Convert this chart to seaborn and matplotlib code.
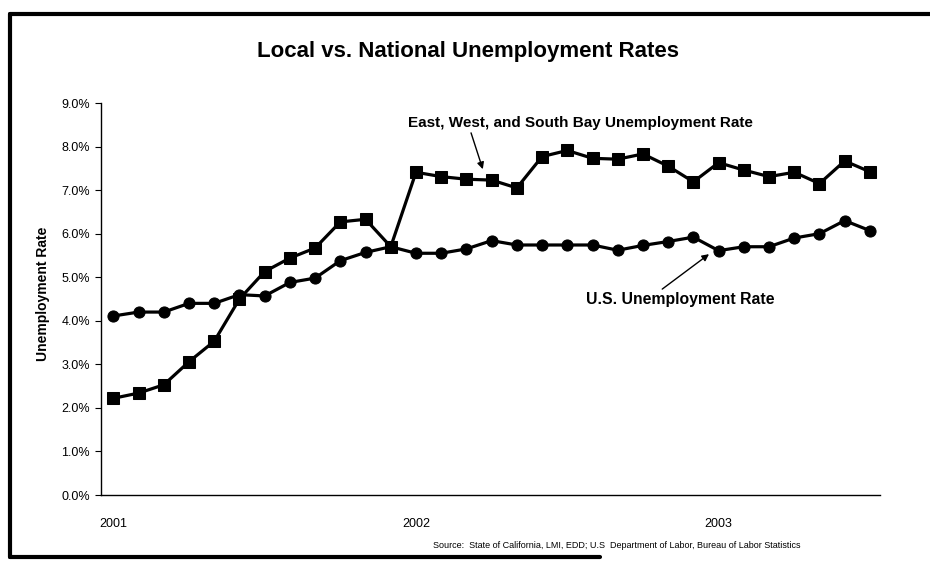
import numpy as np
import pandas as pd
import seaborn as sns
import matplotlib.pyplot as plt
from matplotlib.lines import Line2D

# data (monthly, Jan 2001 - Jul 2003)
months = list(range(31))
local_rate = [2.22, 2.34, 2.53, 3.06, 3.53, 4.50, 5.13, 5.44, 5.67, 6.27,
              6.33, 5.70, 7.41, 7.31, 7.25, 7.23, 7.05, 7.77, 7.91, 7.73,
              7.71, 7.83, 7.55, 7.19, 7.63, 7.46, 7.31, 7.41, 7.15, 7.67,
              7.42]
us_rate = [4.11, 4.20, 4.20, 4.40, 4.40, 4.60, 4.57, 4.88, 4.98, 5.38,
           5.57, 5.70, 5.55, 5.55, 5.65, 5.84, 5.74, 5.74, 5.74, 5.74,
           5.62, 5.73, 5.82, 5.92, 5.61, 5.70, 5.70, 5.90, 6.00, 6.30,
           6.07]
year_ticks = [0, 12, 24]
year_labels = ["2001", "2002", "2003"]
y_ticks = [0, 1, 2, 3, 4, 5, 6, 7, 8, 9]

df = pd.DataFrame({"month": months, "local": local_rate, "us": us_rate})

sns.set_style("white")
plt.rcParams["font.family"] = ["Liberation Sans", "DejaVu Sans"]
plt.rcParams["text.color"] = "black"
plt.rcParams["xtick.color"] = "black"
plt.rcParams["ytick.color"] = "black"

W, H = 930, 565
fig = plt.figure(figsize=(W / 100, H / 100), dpi=100)
ax = fig.add_axes([101 / W, 1 - 495 / H, (880 - 101) / W, (495 - 103) / H])

sns.lineplot(data=df, x="month", y="local", ax=ax, color="black", lw=2.3,
             marker="s", markersize=9, markeredgecolor="black")
sns.lineplot(data=df, x="month", y="us", ax=ax, color="black", lw=2.3,
             marker="o", markersize=8, markeredgecolor="black")

ax.set_xlim(-0.49, 30.4)
ax.set_ylim(0, 9)
ax.set_yticks(y_ticks)
ax.set_yticklabels([f"{v:.1f}%" for v in y_ticks], fontsize=9)
ax.set_xticks(year_ticks)
ax.set_xticklabels(year_labels, fontsize=9)
ax.tick_params(axis="y", left=True, length=4, width=0.8, pad=4)
ax.tick_params(axis="x", bottom=False, pad=13)
ax.set_xlabel("")
ax.set_ylabel("")
sns.despine(ax=ax)
for s in ["left", "bottom"]:
    ax.spines[s].set_color("black")
    ax.spines[s].set_linewidth(1.0)

# annotations
ax.annotate("East, West, and South Bay Unemployment Rate", xy=(14.65, 7.48),
            xytext=(11.68, 8.55), fontsize=11, fontweight="bold",
            ha="left", va="center",
            arrowprops=dict(arrowstyle="-|>", color="black", lw=1,
                            shrinkA=0, shrinkB=0, mutation_scale=10,
                            relpos=(0.18, 0)))
ax.annotate("U.S. Unemployment Rate", xy=(23.62, 5.53),
            xytext=(18.76, 4.48), fontsize=11.3, fontweight="bold",
            ha="left", va="center",
            arrowprops=dict(arrowstyle="-|>", color="black", lw=1,
                            shrinkA=0, shrinkB=0, mutation_scale=10,
                            relpos=(0.4, 1.2)))

fig.text(468 / W, 1 - 51 / H, "Local vs. National Unemployment Rates",
         ha="center", va="center", fontsize=16, fontweight="bold",
         family=["Liberation Sans Narrow", "Liberation Sans"])
fig.text(43 / W, 1 - 294 / H, "Unemployment Rate", rotation=90,
         ha="center", va="center", fontsize=10, fontweight="bold")
fig.text(433 / W, 1 - 545 / H,
         "Source:  State of California, LMI, EDD; U.S  Department of Labor, Bureau of Labor Statistics",
         ha="left", va="center", fontsize=6.5,
         family=["Liberation Sans Narrow", "Liberation Sans"])

# scanned frame round the chart
for xs, ys in [([10, 930], [14, 14]), ([10, 10], [14, 557]), ([10, 600], [557, 557])]:
    fig.add_artist(Line2D([x / W for x in xs], [1 - y / H for y in ys],
                          color="black", lw=3, transform=fig.transFigure))

fig.savefig("out.png", dpi=100)
